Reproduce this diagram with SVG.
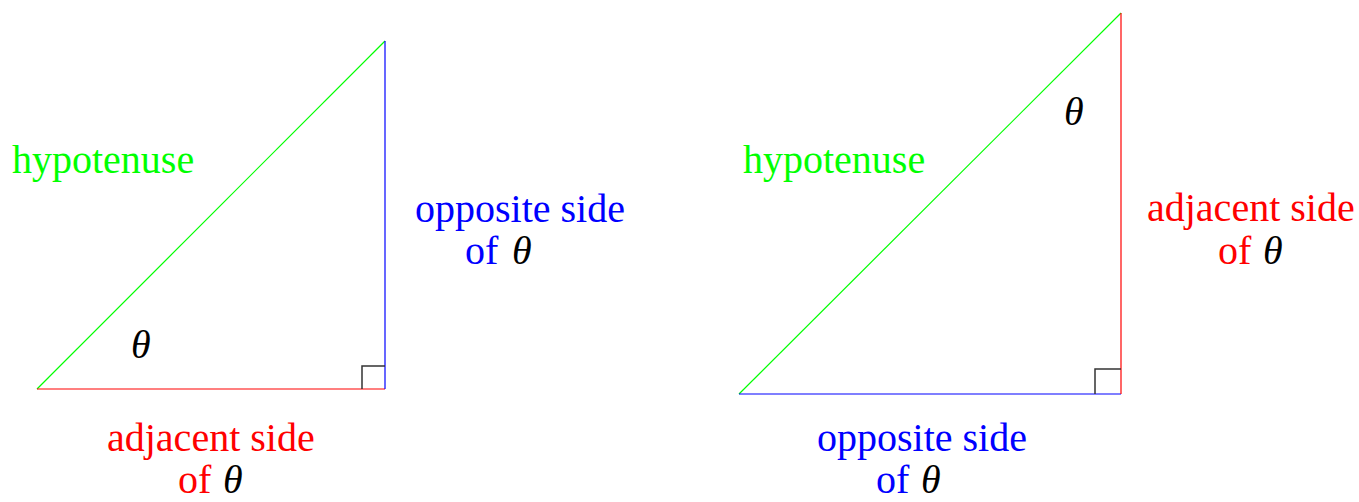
<svg xmlns="http://www.w3.org/2000/svg" width="1359" height="502" viewBox="0 0 1359 502">
<style>
text{font-family:"Liberation Serif","Times New Roman",serif;font-size:40px}
.g{fill:#00ff00}.r{fill:#ff0000}.b{fill:#0000ff}
.th{font-style:italic;fill:#000}
.box{fill:none;stroke:#333;stroke-width:1.5}
</style>
<rect width="1359" height="502" fill="#fff"/>
<g id="connectors" stroke-width="1.2" fill="none">
<line x1="37" y1="389" x2="385" y2="41" stroke="#00ff00"/>
<line x1="37" y1="389" x2="385" y2="389" stroke="#ff0000"/>
<line x1="385" y1="41" x2="385" y2="389" stroke="#0000ff"/>
<line x1="739" y1="394" x2="1121" y2="13" stroke="#00ff00"/>
<line x1="739" y1="394" x2="1121" y2="394" stroke="#0000ff"/>
<line x1="1121" y1="13" x2="1121" y2="394" stroke="#ff0000"/>
</g>
<g id="left-triangle">
<path class="box" d="M362,389 V366 H385"/>
<text class="g" x="12" y="173">hypotenuse</text>
<text class="th" x="131" y="358">θ</text>
<text class="b" x="415" y="222">opposite side</text>
<text x="465" y="264"><tspan class="b">of</tspan><tspan class="th" x="512">θ</tspan></text>
<text class="r" x="107" y="451">adjacent side</text>
<text x="178" y="493"><tspan class="r">of</tspan><tspan class="th" x="223">θ</tspan></text>
</g>
<g id="right-triangle">
<path class="box" d="M1095,394 V369 H1121"/>
<text class="g" x="743" y="173">hypotenuse</text>
<text class="th" x="1064" y="125">θ</text>
<text class="r" x="1147" y="221">adjacent side</text>
<text x="1218" y="264"><tspan class="r">of</tspan><tspan class="th" x="1263">θ</tspan></text>
<text class="b" x="817" y="451">opposite side</text>
<text x="876" y="493"><tspan class="b">of</tspan><tspan class="th" x="921">θ</tspan></text>
</g>
</svg>
